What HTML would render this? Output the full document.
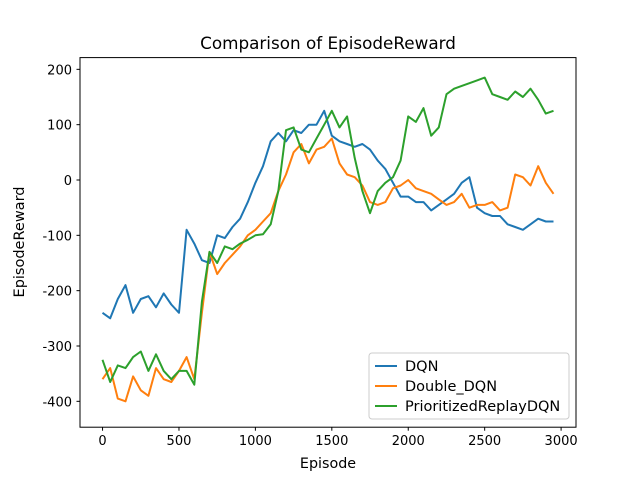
<!DOCTYPE html>
<html><head><meta charset="utf-8"><style>
body{margin:0;background:#fff}
svg text{font-family:"DejaVu Sans","Liberation Sans",sans-serif;fill:#000}
</style></head><body>
<svg id="chart" width="640" height="480" viewBox="0 0 640 480" xmlns="http://www.w3.org/2000/svg">
<rect width="640" height="480" fill="#fff"/>
<text x="328" y="49" font-size="16.8" text-anchor="middle">Comparison of EpisodeReward</text>
<g id="plot"></g>
<rect x="80" y="57.6" width="496" height="369.6" fill="none" stroke="#000" stroke-width="1"/>
<g id="axes"></g>
<text x="328" y="468" font-size="14.3" text-anchor="middle">Episode</text>
<text transform="translate(24,242) rotate(-90)" font-size="14.5" text-anchor="middle">EpisodeReward</text>
<g>
<rect x="369" y="353" width="200" height="66" rx="3" fill="#fff" fill-opacity="0.8" stroke="#ccc"/>
<line x1="375" y1="366" x2="397" y2="366" stroke="#1f77b4" stroke-width="2"/>
<text x="405" y="371" font-size="14.5">DQN</text>
<line x1="375" y1="386" x2="397" y2="386" stroke="#ff7f0e" stroke-width="2"/>
<text x="405" y="391" font-size="14.5">Double_DQN</text>
<line x1="375" y1="406" x2="397" y2="406" stroke="#2ca02c" stroke-width="2"/>
<text x="405" y="411" font-size="14.5">PrioritizedReplayDQN</text>
</g>
</svg>
<script>
const episodes = [];
for (let e = 0; e <= 2950; e += 50) episodes.push(e);
const dqn = [-240,-250,-215,-190,-240,-215,-210,-230,-205,-225,-240,-90,-115,-145,-150,-100,-105,-85,-70,-40,-5,25,70,85,70,90,85,100,100,125,80,70,65,60,65,55,35,20,-5,-30,-30,-40,-40,-55,-45,-35,-25,-5,5,-50,-60,-65,-65,-80,-85,-90,-80,-70,-75,-75];
const doubleDqn = [-360,-340,-395,-400,-355,-380,-390,-340,-360,-365,-345,-320,-360,-240,-130,-170,-150,-135,-120,-100,-90,-75,-60,-20,10,50,65,30,55,60,75,30,10,5,-10,-40,-45,-40,-15,-10,0,-15,-20,-25,-35,-45,-40,-25,-50,-45,-45,-40,-55,-50,10,5,-10,25,-5,-25];
const prioritized = [-325,-365,-335,-340,-320,-310,-345,-315,-345,-360,-345,-345,-370,-220,-130,-150,-120,-125,-115,-108,-100,-98,-80,-20,90,95,55,50,75,100,125,95,115,40,-20,-60,-20,-5,5,35,115,105,130,80,95,155,165,170,175,180,185,155,150,145,160,150,165,145,120,125];
const xTicks = [0,500,1000,1500,2000,2500,3000];
const yTicks = [-400,-300,-200,-100,0,100,200];

const NS = "http://www.w3.org/2000/svg";
const xs = v => 80 + (v + 147.5) * 496 / 3245;
const ys = v => 180 - v * 0.5533;
const plot = document.getElementById('plot');
const axes = document.getElementById('axes');
function addLine(vals, color, name) {
  const p = document.createElementNS(NS, 'polyline');
  
  
  p.setAttribute('points', vals.map((v, i) => xs(episodes[i]).toFixed(1) + ',' + ys(v).toFixed(1)).join(' '));
  p.setAttribute('fill', 'none');
  p.setAttribute('stroke', color);
  p.setAttribute('stroke-width', '2');
  p.setAttribute('stroke-linejoin', 'round');
  plot.appendChild(p);
}
addLine(dqn, '#1f77b4', 'dqn-line');
addLine(doubleDqn, '#ff7f0e', 'double-dqn-line');
addLine(prioritized, '#2ca02c', 'prioritized-line');
xTicks.forEach(t => {
  const x = xs(t);
  const l = document.createElementNS(NS, 'line');
  
  
  l.setAttribute('x1', x); l.setAttribute('x2', x);
  l.setAttribute('y1', 427.2); l.setAttribute('y2', 430.7);
  l.setAttribute('stroke', '#000');
  axes.appendChild(l);
  const tx = document.createElementNS(NS, 'text');
  
  
  tx.setAttribute('x', x); tx.setAttribute('y', 445);
  tx.setAttribute('font-size', '13');
  tx.setAttribute('text-anchor', 'middle');
  tx.textContent = t;
  axes.appendChild(tx);
});
yTicks.forEach(t => {
  const y = ys(t);
  const l = document.createElementNS(NS, 'line');
  
  
  l.setAttribute('x1', 76.5); l.setAttribute('x2', 80);
  l.setAttribute('y1', y); l.setAttribute('y2', y);
  l.setAttribute('stroke', '#000');
  axes.appendChild(l);
  const tx = document.createElementNS(NS, 'text');
  
  
  tx.setAttribute('x', 72); tx.setAttribute('y', y + 5);
  tx.setAttribute('font-size', '13');
  tx.setAttribute('text-anchor', 'end');
  tx.textContent = t;
  axes.appendChild(tx);
});
</script>
</body></html>
